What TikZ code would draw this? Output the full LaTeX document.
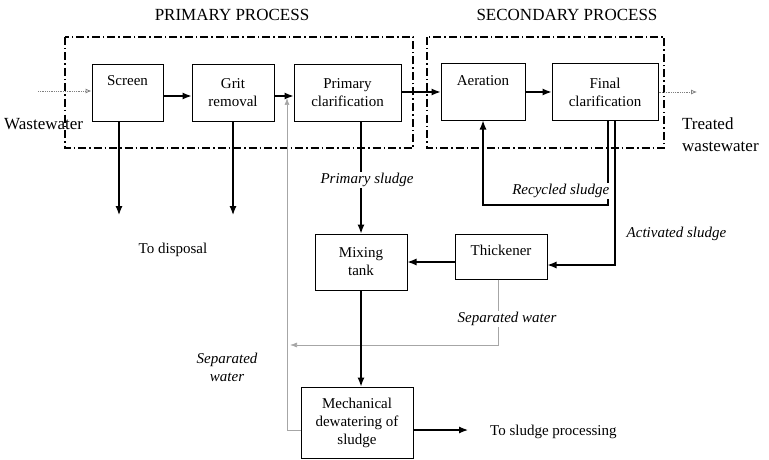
\documentclass[tikz,border=0pt]{standalone}
\usepackage{fontspec}
\setmainfont{Liberation Serif}
\usetikzlibrary{arrows.meta}

\tikzset{
  unit/.style={draw, line width=1pt, align=center, inner sep=0pt,
    font=\fontsize{15}{18}\selectfont},
  zone/.style={line width=1.1pt, dash pattern=on 8pt off 3pt on 1.5pt off 3pt},
  title/.style={font=\fontsize{17}{20}\selectfont},
  side/.style={font=\fontsize{17}{22}\selectfont, inner sep=0pt},
  note/.style={font=\fontsize{15}{18}\selectfont, inner sep=0pt},
  lbl/.style={font=\fontsize{15}{18}\selectfont\itshape, fill=white, inner sep=1.5pt},
  flow/.style={line width=1.2pt, ->},
  feed/.style={gray, densely dotted, line width=0.8pt, -{Latex[open,length=6pt,width=5pt]}},
  water/.style={gray!70, line width=0.7pt, -{Latex[length=7pt,width=5pt]}}
}

\begin{document}
\begin{tikzpicture}[x=1pt, y=-1pt, >={Latex[length=9pt,width=7pt]}]
    \useasboundingbox (0,0) rectangle (769,460);

    % Titles
    \node[title] (ptitle) at (232,15) {PRIMARY PROCESS};
    \node[title] (stitle) at (567,15) {SECONDARY PROCESS};

    % Process zones
    \draw[zone] (65,37) rectangle (413,148);
    \draw[zone] (427,37) rectangle (664,148);

    % Treatment units
    \node[unit, minimum width=71pt, minimum height=56pt, text height=10pt, text depth=24pt] (screen) at (127.5,93) {Screen};
    \node[unit, minimum width=82pt, minimum height=56pt] (grit) at (233,93) {Grit\\removal};
    \node[unit, minimum width=107pt, minimum height=56pt] (pclar) at (347.5,93) {Primary\\clarification};
    \node[unit, minimum width=84pt, minimum height=56pt, text height=10pt, text depth=24pt] (aer) at (483,92) {Aeration};
    \node[unit, minimum width=106pt, minimum height=56pt] (fclar) at (605,92) {Final\\clarification};

    % Sludge units
    \node[unit, minimum width=92pt, minimum height=56pt] (mix) at (361,262) {Mixing\\tank};
    \node[unit, minimum width=92pt, minimum height=45pt, text height=10pt, text depth=13pt] (thick) at (501,256.5) {Thickener};
    \node[unit, minimum width=112pt, minimum height=71pt] (dew) at (357,422.5) {Mechanical\\dewatering of\\sludge};

    % Inlet and outlet
    \coordinate (win) at (38,91);
    \coordinate (wout) at (697,92);
    \node[side, anchor=west] (ww) at (4,124) {Wastewater};
    \node[side, anchor=west, align=left] (tw) at (682,135) {Treated\\wastewater};
    \draw[feed] (win) -- (win -| screen.west);
    \draw[feed] (fclar.east) -- (wout);

    % Main line
    \draw[flow] ([yshift=-3pt]screen.east) -- ([yshift=-3pt]grit.west);
    \draw[flow] ([yshift=-3pt]grit.east) -- ([yshift=-3pt]pclar.west);
    \draw[flow] (pclar.east |- aer.west) -- (aer.west);
    \draw[flow] (aer.east) -- (fclar.west);

    % Screenings and grit
    \coordinate (disp) at (119,215);
    \draw[flow] (screen.south -| disp) -- (disp);
    \draw[flow] (grit.south) -- (grit.south |- disp);
    \node[note] (todisp) at (173,250) {To disposal};

    % Separated water back to the inlet
    \coordinate (swj) at (287,98);
    \coordinate (sproc) at (468,430);
    \draw[water] (sproc -| dew.west) -| (swj);
    \coordinate (swt) at (498,345);
    \coordinate (swe) at (290,345);
    \draw[water] (thick.south -| swt) -- (swt) -- (swe);

    % Sludge lines
    \draw[flow] (pclar.south -| mix.north) -- (mix.north);
    \coordinate (rec) at (608,205);
    \draw[flow] (fclar.south -| rec) -- (rec) -| (aer.south);
    \coordinate (act) at (615,265);
    \draw[flow] (fclar.south -| act) -- (act) -- (act -| thick.east);
    \draw[flow] (thick.west |- mix.east) -- (mix.east);
    \draw[flow] (mix.south) -- (mix.south |- dew.north);
    \draw[flow] (sproc -| dew.east) -- (sproc);
    \node[note, anchor=west] (tosp) at (490,432) {To sludge processing};

    % Line labels
    \node[lbl] (psl) at (367,180) {Primary sludge};
    \node[lbl, anchor=east] (rsl) at (611,191) {Recycled sludge};
    \node[lbl, anchor=west] (asl) at (625,234) {Activated sludge};
    \node[lbl] (swl) at (507,319) {Separated water};
    \node[lbl, align=center, fill=none] (swl2) at (227,367) {Separated\\water};
\end{tikzpicture}
\end{document}
